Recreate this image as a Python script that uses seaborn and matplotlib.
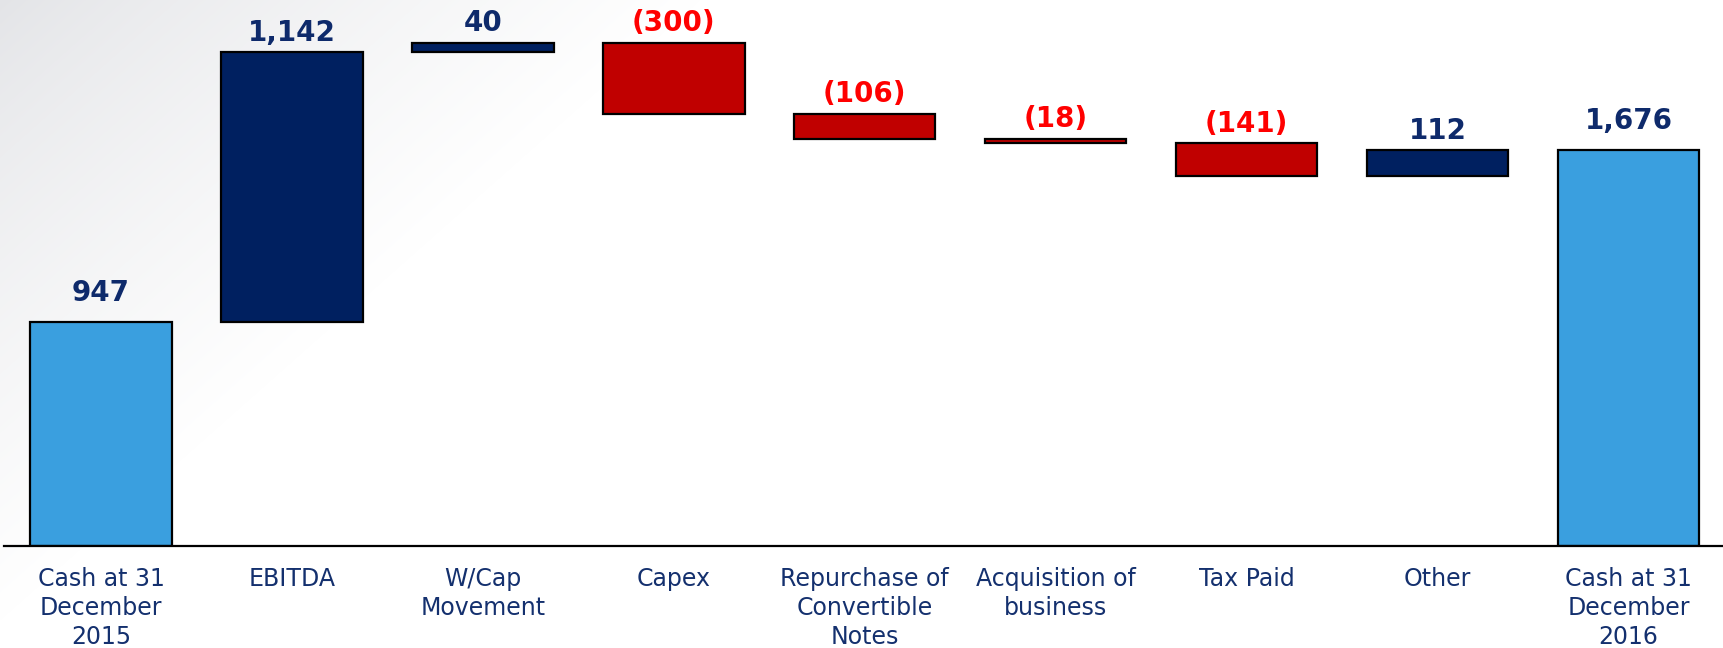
import numpy as np
import pandas as pd
import matplotlib
matplotlib.use("Agg")
import matplotlib.pyplot as plt
import seaborn as sns

# ---- data ----
categories = ["Cash at 31\nDecember\n2015", "EBITDA", "W/Cap\nMovement", "Capex",
              "Repurchase of\nConvertible\nNotes", "Acquisition of\nbusiness",
              "Tax Paid", "Other", "Cash at 31\nDecember\n2016"]
values = [947, 1142, 40, -300, -106, -18, -141, 112, 1676]
kinds = ["total", "change", "change", "change", "change", "change", "change", "change", "total"]
value_labels = ["947", "1,142", "40", "(300)", "(106)", "(18)", "(141)", "112", "1,676"]

# ---- waterfall geometry from the data ----
bottoms, heights = [], []
running = 0
for v, k in zip(values, kinds):
    if k == "total":
        bottoms.append(0)
        heights.append(v)
        running = v
    else:
        if v >= 0:
            bottoms.append(running)
        else:
            bottoms.append(running + v)
        heights.append(abs(v))
        running += v
df = pd.DataFrame({"category": categories, "height": heights, "bottom": bottoms,
                   "kind": kinds, "value": values, "label": value_labels})

LIGHT_BLUE = "#3A9FDF"
NAVY = "#002060"
RED = "#C00000"
LABEL_NAVY = "#0E2A6B"
LABEL_RED = "#FF0000"
TICK_NAVY = "#14306E"

sns.set_style("white")
plt.rcParams["font.family"] = ["DejaVu Sans"]

fig = plt.figure(figsize=(17.23, 6.48), dpi=100)
fig.patch.set_facecolor("white")

# background gradient (grey top-left fading to white)
bg = fig.add_axes([0, 0, 1, 1], zorder=0)
W, H = 1723, 648
xx, yy = np.meshgrid(np.arange(W), np.arange(H))
t = np.clip(xx / 700.0 + yy / 620.0, 0, 1)
t = t ** 0.8
c0 = np.array([0xE3, 0xE4, 0xE7]) / 255.0
c1 = np.array([1.0, 1.0, 1.0])
img = c0[None, None, :] * (1 - t[..., None]) + c1[None, None, :] * t[..., None]
bg.imshow(img, aspect="auto", extent=[0, 1, 0, 1], origin="upper")
bg.set_axis_off()

ax = fig.add_axes([4 / W, (H - 546) / H, 1 - 4 / W, 546 / H], zorder=1)
ax.patch.set_alpha(0)

sns.barplot(data=df, x="category", y="height", bottom=df["bottom"].to_numpy(),
            order=categories, errorbar=None, width=0.74, ax=ax,
            edgecolor="black", linewidth=1.6, color=NAVY, saturation=1)

for patch, k, v in zip(ax.patches, kinds, values):
    if k == "total":
        patch.set_facecolor(LIGHT_BLUE)
    elif v >= 0:
        patch.set_facecolor(NAVY)
    else:
        patch.set_facecolor(RED)

for i, (b, h, v, k, lab) in enumerate(zip(bottoms, heights, values, kinds, value_labels)):
    off = 15 if k == "total" else 8
    ax.annotate(lab, xy=(i, b + h), xytext=(0, off), textcoords="offset points",
                ha="center", va="baseline", fontsize=20, fontweight="bold",
                color=LABEL_RED if v < 0 else LABEL_NAVY)

ax.set_xlim(-0.508, 8.494)
ax.set_ylim(0, 2309)
ax.set_xlabel("")
ax.set_ylabel("")
ax.set_yticks([])
ax.tick_params(axis="x", length=0, pad=15, labelsize=17, labelcolor=TICK_NAVY)
for lbl in ax.get_xticklabels():
    lbl.set_linespacing(1.27)
for s in ["top", "left", "right"]:
    ax.spines[s].set_visible(False)
ax.spines["bottom"].set_color("black")
ax.spines["bottom"].set_linewidth(1.6)

fig.savefig("out.png", dpi=100)
